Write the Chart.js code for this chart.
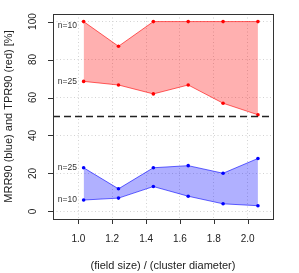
<!DOCTYPE html>
<html>
<head>
<meta charset="utf-8">
<script src="https://cdn.jsdelivr.net/npm/chart.js@4/dist/chart.umd.min.js"></script>
<style>
  body { margin: 0; background: #fff; }
  #wrap { width: 299px; height: 273px; }
</style>
</head>
<body>
<div id="wrap"><canvas id="chart" width="299" height="273"></canvas></div>
<script>
// ratio (field size) / (cluster diameter)
const ratios = [1.031, 1.237, 1.443, 1.649, 1.855, 2.061];

// TPR90 (red), band between n=10 and n=25
const tprN10 = [100, 87, 100, 100, 100, 100];
const tprN25 = [68.5, 66.6, 61.9, 66.6, 57.0, 50.9];

// MRR90 (blue)
const mrrN25 = [23.0, 11.9, 23.0, 24.1, 20.1, 27.9];
const mrrN10 = [6.0, 7.0, 13.1, 8.0, 4.0, 3.0];

const xTickValues = [1.0, 1.2, 1.4, 1.6, 1.8, 2.0];
const yTickValues = [0, 20, 40, 60, 80, 100];
const refLevel = 50;

// n labels next to the first point of each line
const nLabels = ['n=10', 'n=25', 'n=25', 'n=10'];
const nLabelY = [98, 68.5, 23, 6];

const toPoints = ys => ys.map((y, i) => ({ x: ratios[i], y }));

const FONT = 'Liberation Sans, Arial, Helvetica, sans-serif';

function lineSet(values, line, dot, fill) {
  return {
    data: toPoints(values),
    borderColor: line,
    borderWidth: 1,
    pointRadius: 1.8,
    pointBackgroundColor: dot,
    pointBorderWidth: 0,
    backgroundColor: fill || 'transparent',
    fill: fill ? '+1' : false,
    tension: 0
  };
}

// box, tick marks, rotated y labels, reference line, n labels
const extras = {
  id: 'extras',
  afterDatasetsDraw(chart) {
    const { ctx, chartArea: a, scales: { x, y } } = chart;
    ctx.save();
    // dashed reference line
    const yr = y.getPixelForValue(refLevel);
    ctx.strokeStyle = '#222';
    ctx.lineWidth = 1.3;
    ctx.setLineDash([7, 4]);
    ctx.beginPath();
    ctx.moveTo(a.left, yr);
    ctx.lineTo(a.right, yr);
    ctx.stroke();
    ctx.setLineDash([]);

    // n labels
    ctx.fillStyle = '#333';
    ctx.font = '8.5px ' + FONT;
    ctx.textAlign = 'center';
    ctx.textBaseline = 'middle';
    nLabels.forEach((t, i) => {
      ctx.fillText(t, x.getPixelForValue(0.935), y.getPixelForValue(nLabelY[i]));
    });
    ctx.restore();
  },
  afterDraw(chart) {
    const { ctx, chartArea: a, scales: { x, y } } = chart;
    ctx.save();
    ctx.strokeStyle = '#333';
    ctx.lineWidth = 1;
    ctx.strokeRect(Math.round(a.left) + 0.5, Math.round(a.top) + 0.5,
      Math.round(a.right - a.left), Math.round(a.bottom - a.top));

    ctx.beginPath();
    yTickValues.forEach(v => {
      const py = Math.round(y.getPixelForValue(v)) + 0.5;
      ctx.moveTo(a.left - 5, py);
      ctx.lineTo(a.left, py);
    });
    xTickValues.forEach(v => {
      const px = Math.round(x.getPixelForValue(v)) + 0.5;
      ctx.moveTo(px, a.bottom);
      ctx.lineTo(px, a.bottom + 5);
    });
    ctx.stroke();

    // rotated y tick labels (R style)
    ctx.fillStyle = '#222';
    ctx.font = '10px ' + FONT;
    ctx.textAlign = 'center';
    ctx.textBaseline = 'middle';
    yTickValues.forEach(v => {
      ctx.save();
      ctx.translate(33, y.getPixelForValue(v));
      ctx.rotate(-Math.PI / 2);
      ctx.fillText(String(v), 0, 0);
      ctx.restore();
    });
    ctx.restore();
  }
};

new Chart(document.getElementById('chart'), {
  type: 'line',
  data: {
    datasets: [
      lineSet(tprN10, 'rgba(255,0,0,0.6)', '#ff0000', 'rgba(255,0,0,0.31)'),
      lineSet(tprN25, 'rgba(255,0,0,0.6)', '#ff0000'),
      lineSet(mrrN25, 'rgba(0,0,255,0.6)', '#0000ff', 'rgba(0,0,255,0.31)'),
      lineSet(mrrN10, 'rgba(0,0,255,0.6)', '#0000ff')
    ]
  },
  options: {
    responsive: false,
    animation: false,
    layout: { padding: { top: 14, right: 26, left: 0, bottom: 0 } },
    plugins: { legend: { display: false }, tooltip: { enabled: false } },
    scales: {
      x: {
        type: 'linear',
        min: 0.85,
        max: 2.15,
        afterBuildTicks: s => { s.ticks = xTickValues.map(v => ({ value: v })); },
        afterFit: s => { s.height = 54; },
        grid: { color: '#d3d3d3', drawTicks: false },
        border: { display: false, dash: [1, 2.5] },
        ticks: {
          padding: 14,
          color: '#222',
          maxRotation: 0,
          font: { family: FONT, size: 10 },
          callback: v => Number(v).toFixed(1)
        },
        title: {
          display: true,
          text: '(field size) / (cluster diameter)',
          color: '#222',
          font: { family: FONT, size: 11 },
          padding: { top: 0, bottom: 0 }
        }
      },
      y: {
        min: -4,
        max: 104,
        afterBuildTicks: s => { s.ticks = yTickValues.map(v => ({ value: v })); },
        afterFit: s => { s.width = 53; },
        grid: { color: '#d3d3d3', drawTicks: false },
        border: { display: false, dash: [1, 2.5] },
        ticks: { display: false },
        title: {
          display: true,
          text: 'MRR90 (blue) and TPR90 (red) [%]',
          color: '#222',
          font: { family: FONT, size: 11 },
          padding: { top: 2, bottom: 0 }
        }
      }
    }
  },
  plugins: [extras]
});
</script>
</body>
</html>
